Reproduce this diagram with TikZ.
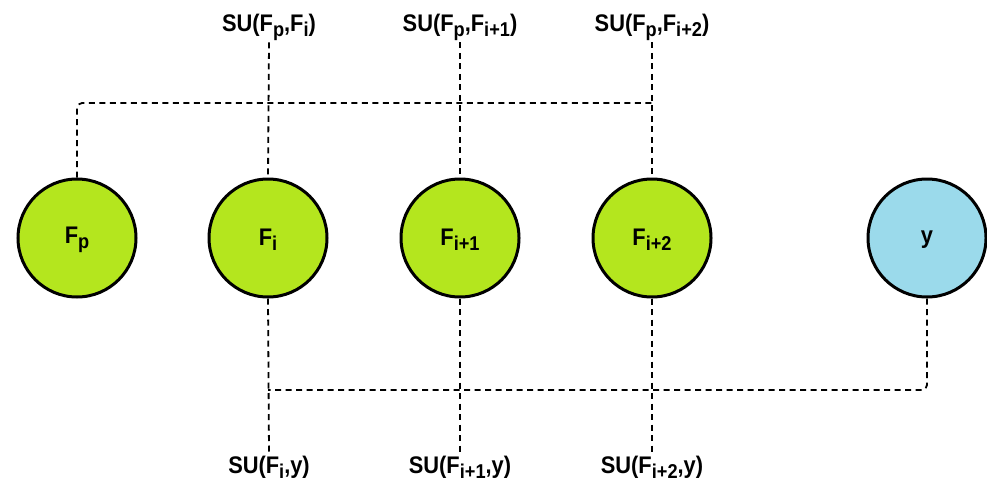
\documentclass[tikz,border=0pt]{standalone}
\usepackage{fontspec}
\setmainfont{Liberation Sans}
% lowered, smaller index letters
\newcommand{\sbs}[1]{\raisebox{-0.4ex}{\fontsize{20}{21}\selectfont #1}}
% slightly condensed bold lettering
\newcommand{\cond}[1]{\scalebox{0.91}[1]{#1}}
% circle captions sit a little below the centre
\newcommand{\circlab}[1]{\raisebox{-2pt}[\height][\depth]{\cond{#1}}}
\definecolor{featgreen}{RGB}{180,230,30}
\definecolor{classblue}{RGB}{155,218,235}
\begin{document}
\begin{tikzpicture}[x=1pt,y=-1pt,
  feat/.style={circle,draw=black,line width=3pt,fill=featgreen,minimum size=118pt,inner sep=0pt,
    font=\fontsize{24}{26}\selectfont\bfseries},
  cls/.style={feat,fill=classblue},
  sulabel/.style={anchor=base,inner xsep=2pt,inner ysep=2pt,font=\fontsize{24}{26}\selectfont\bfseries},
  link/.style={line width=1.8pt,dash pattern=on 6pt off 4.5pt,rounded corners=5pt}]
\useasboundingbox (0,0) rectangle (987,482);

% variable nodes
\node[feat] (fp) at (77,238) {\circlab{F\sbs{p}}};
\node[feat] (fi) at (268,238) {\circlab{F\sbs{i}}};
\node[feat] (fi1) at (460,238) {\circlab{F\sbs{i+1}}};
\node[feat] (fi2) at (652,238) {\circlab{F\sbs{i+2}}};
\node[cls] (y) at (927,238) {\circlab{y}};

% symmetric uncertainty labels
\node[sulabel] (t1) at (269,31) {\cond{SU(F\sbs{p},F\sbs{i})}};
\node[sulabel] (t2) at (460,31) {\cond{SU(F\sbs{p},F\sbs{i+1})}};
\node[sulabel] (t3) at (652,31) {\cond{SU(F\sbs{p},F\sbs{i+2})}};
\node[sulabel] (b1) at (269,473) {\cond{SU(F\sbs{i},y)}};
\node[sulabel] (b2) at (460,473) {\cond{SU(F\sbs{i+1},y)}};
\node[sulabel] (b3) at (652,473) {\cond{SU(F\sbs{i+2},y)}};

% junction ends of the bus lines
\coordinate (topend) at (652,103);
\coordinate (botend) at (268,390);

% links from F_p
\draw[link] (fp.north) |- (topend);
\draw[link] (t1.south) -- (fi.north);
\draw[link] (t2.south) -- (fi1.north);
\draw[link] (t3.south) -- (fi2.north);

% links to the class y
\draw[link] (y.south) |- (botend);
\draw[link] (fi.south) -- (b1.north);
\draw[link] (fi1.south) -- (b2.north);
\draw[link] (fi2.south) -- (b3.north);
\end{tikzpicture}
\end{document}
